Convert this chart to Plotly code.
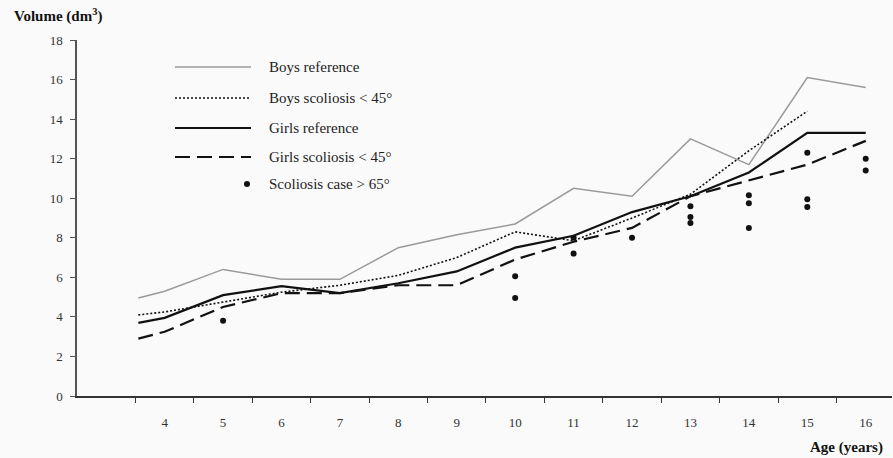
import plotly.graph_objects as go

# Mean trunk volume (dm³) by age
ages = [3.55, 4, 5, 6, 7, 8, 9, 10, 11, 12, 13, 14, 15, 16]
boys_reference = [4.95, 5.3, 6.4, 5.9, 5.9, 7.5, 8.15, 8.7, 10.5, 10.1, 13.0, 11.7, 16.1, 15.6]
girls_reference = [3.7, 3.95, 5.1, 5.55, 5.2, 5.7, 6.3, 7.5, 8.1, 9.3, 10.1, 11.3, 13.3, 13.3]

ages_boys_sc = [3.55, 4, 5, 6, 7, 8, 9, 10, 11, 12, 13, 14, 15]
boys_scoliosis = [4.1, 4.25, 4.75, 5.25, 5.6, 6.1, 7.0, 8.3, 7.85, 9.0, 10.2, 12.4, 14.4]
girls_scoliosis = [2.9, 3.25, 4.5, 5.2, 5.2, 5.6, 5.6, 6.9, 7.8, 8.5, 10.1, 10.9, 11.7, 12.9]

# Individual severe cases
case_ages = [5, 10, 10, 11, 11, 12, 13, 13, 13, 14, 14, 14, 15, 15, 15, 16, 16]
case_volumes = [3.8, 6.05, 4.95, 8.0, 7.2, 8.0, 9.6, 9.05, 8.75, 10.15, 9.75, 8.5, 12.3, 9.95, 9.55, 12.0, 11.4]

x_tick_values = list(range(4, 17))
x_tick_labels = [str(v) for v in x_tick_values]
y_tick_values = list(range(0, 19, 2))

W, H = 893, 458
L, R, T, B = 77, 1, 40, 62
SERIF = "Liberation Serif, Times New Roman, serif"
BG = "#fafafa"

def px(x):
    return (x - L) / (W - L - R)

def py(y):
    return (H - B - y) / (H - T - B)

styles = {
    "Boys reference": dict(color="#9a9a9a", width=1.5, dash="solid"),
    "Boys scoliosis < 45°": dict(color="#111111", width=1.6, dash="2px,2px"),
    "Girls reference": dict(color="#111111", width=2.2, dash="solid"),
    "Girls scoliosis < 45°": dict(color="#111111", width=2.2, dash="15px,7px"),
}

fig = go.Figure()
fig.add_trace(go.Scatter(x=ages, y=boys_reference, mode="lines",
                         line=styles["Boys reference"], name="Boys reference"))
fig.add_trace(go.Scatter(x=ages_boys_sc, y=boys_scoliosis, mode="lines",
                         line=styles["Boys scoliosis < 45°"], name="Boys scoliosis < 45°"))
fig.add_trace(go.Scatter(x=ages, y=girls_reference, mode="lines",
                         line=styles["Girls reference"], name="Girls reference"))
fig.add_trace(go.Scatter(x=ages, y=girls_scoliosis, mode="lines",
                         line=styles["Girls scoliosis < 45°"], name="Girls scoliosis < 45°"))
fig.add_trace(go.Scatter(x=case_ages, y=case_volumes, mode="markers",
                         marker=dict(color="#111111", size=6), name="Scoliosis case > 65°"))

# Hand-drawn legend block
legend_rows = [
    ("Boys reference", 67),
    ("Boys scoliosis < 45°", 98),
    ("Girls reference", 128),
    ("Girls scoliosis < 45°", 157),
]
LEG_FONT = dict(family=SERIF, size=15, color="#222")
shapes = []
annotations = []
for name, yy in legend_rows:
    st = styles[name]
    shapes.append(dict(type="line", xref="paper", yref="paper",
                       x0=px(175), x1=px(251), y0=py(yy), y1=py(yy),
                       line=dict(color=st["color"], width=st["width"], dash=st["dash"])))
    annotations.append(dict(text=name, xref="paper", yref="paper", x=px(267), y=py(yy),
                            xanchor="left", yanchor="middle", showarrow=False,
                            font=LEG_FONT))
shapes.append(dict(type="circle", xref="paper", yref="paper",
                   x0=px(244), x1=px(250), y0=py(181), y1=py(187),
                   fillcolor="#111111", line=dict(width=0)))
annotations.append(dict(text="Scoliosis case > 65°", xref="paper", yref="paper",
                        x=px(267), y=py(184), xanchor="left", yanchor="middle",
                        showarrow=False, font=LEG_FONT))

# Axis titles
annotations.append(dict(text="<b>Volume (dm<sup>3</sup>)</b>", xref="paper", yref="paper",
                        x=px(12), y=py(15), xanchor="left", yanchor="middle",
                        showarrow=False, font=dict(family=SERIF, size=15, color="#111")))
annotations.append(dict(text="<b>Age (years)</b>", xref="paper", yref="paper",
                        x=px(885), y=py(447), xanchor="right", yanchor="middle",
                        showarrow=False, font=dict(family=SERIF, size=15, color="#111")))

fig.update_layout(
    width=W, height=H,
    margin=dict(l=L, r=R, t=T, b=B),
    paper_bgcolor=BG, plot_bgcolor=BG,
    showlegend=False,
    shapes=shapes,
    annotations=annotations,
    xaxis=dict(
        range=[2.5, 16.45], showgrid=False, zeroline=False,
        showline=True, linecolor="#333", linewidth=1.5,
        tickmode="array", tickvals=x_tick_values, ticktext=x_tick_labels,
        ticks="", ticklabelstandoff=14,
        tickfont=dict(family=SERIF, size=13, color="#333"),
        minor=dict(tickmode="array", tickvals=[v - 0.5 for v in x_tick_values],
                   ticks="outside", ticklen=5, tickcolor="#333", tickwidth=1.2),
    ),
    yaxis=dict(
        range=[0, 18], showgrid=False, zeroline=False,
        showline=True, linecolor="#555", linewidth=1.5,
        tickmode="array", tickvals=y_tick_values,
        ticks="outside", ticklen=5, tickcolor="#555", tickwidth=1.2,
        ticklabelstandoff=5,
        tickfont=dict(family=SERIF, size=13, color="#333"),
    ),
)

fig.write_html("out.html")
